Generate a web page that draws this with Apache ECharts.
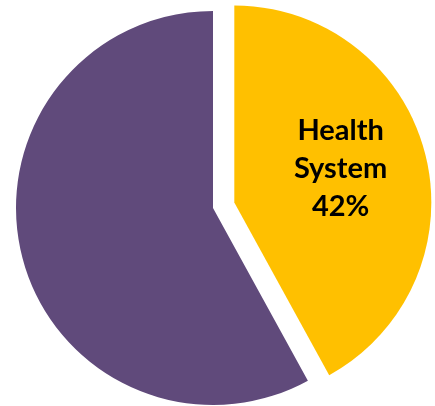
<!DOCTYPE html>
<html>
<head>
<meta charset="utf-8">
<script src="https://cdn.jsdelivr.net/npm/echarts@6/dist/echarts.min.js"></script>
<style>
  html, body { margin: 0; padding: 0; background: #fff; }
  #chart { width: 435px; height: 406px; }
</style>
</head>
<body>
<div id="chart"></div>
<script>
// Share of total, in percent
const categories = ['Health System', 'Other'];
const shares = [42, 58];
const colors = ['#FFC000', '#604A7B'];
const showLabel = [true, false];

const chart = echarts.init(document.getElementById('chart'), null, { renderer: 'canvas' });

const data = categories.map((name, i) => ({
  name: name,
  value: shares[i],
  selected: i === 0,
  itemStyle: { color: colors[i] },
  label: { show: showLabel[i] }
}));

chart.setOption({
  animation: false,
  series: [{
    type: 'pie',
    center: [213, 208],
    radius: [0, 197],
    startAngle: 90,
    clockwise: true,
    selectedMode: 'single',
    selectedOffset: 22,
    emphasis: { disabled: true },
    itemStyle: { borderWidth: 0 },
    label: {
      position: 'inside',
      // a short spacer line below the text lifts the block within the slice
      formatter: p => p.name.split(' ').map(w => '{t|' + w + '}').join('\n') +
        '\n{t|' + p.value + '%}\n{s| }',
      color: '#000',
      padding: [0, 0, 0, 16],
      rich: {
        t: {
          fontFamily: 'Lato',
          fontWeight: 'bold',
          fontSize: 29,
          lineHeight: 38,
          color: '#000'
        },
        s: { fontSize: 8, lineHeight: 18 }
      }
    },
    labelLine: { show: false },
    data: data
  }]
});
</script>
</body>
</html>
